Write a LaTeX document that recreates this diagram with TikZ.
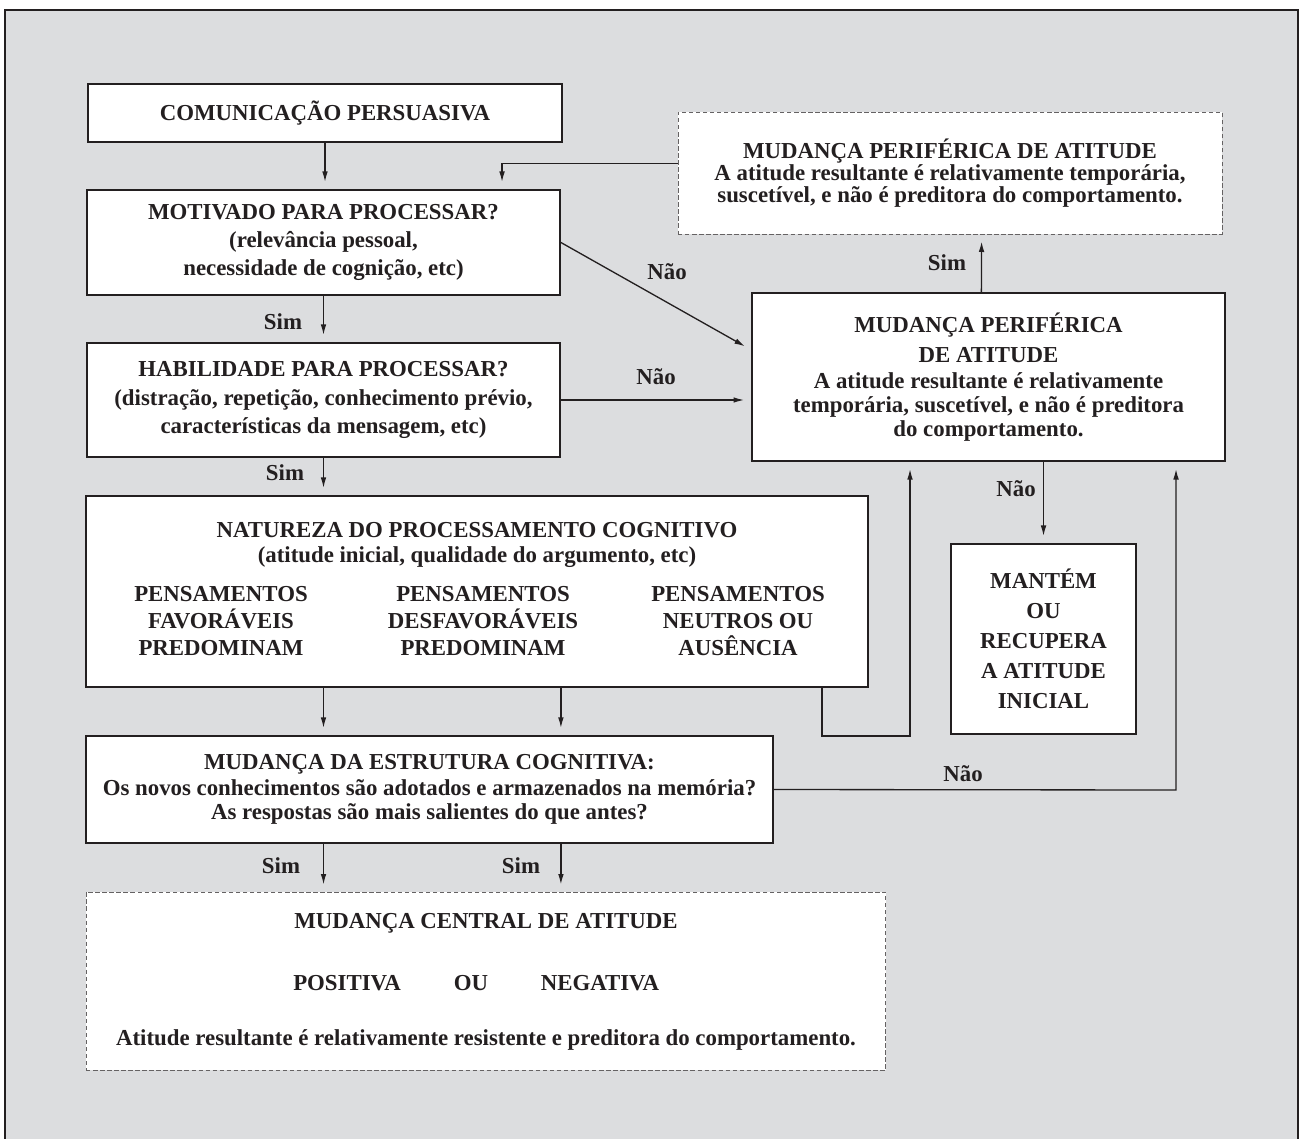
\documentclass[tikz,border=0pt]{standalone}
\usepackage{fontspec}
\setmainfont{Liberation Serif}
\usetikzlibrary{arrows.meta,calc}

\definecolor{fundo}{HTML}{DCDDDF}
\definecolor{traco}{HTML}{231F20}

\begin{document}
\begin{tikzpicture}[x=0.02cm, y=-0.02cm,
	caixa/.style={draw=traco, line width=1.1pt, fill=white, inner sep=0pt},
	tracejada/.style={draw=traco!70, line width=0.5pt, dash pattern=on 2.5pt off 1.5pt, fill=white, inner sep=0pt},
	texto/.style={font=\fontsize{13}{16}\selectfont\bfseries, align=center, text=traco},
	seta/.style={draw=traco, line width=0.75pt, -{Latex[length=6pt,width=3.2pt]}, shorten >=4pt},
	rotulo/.style={font=\fontsize{13}{16}\selectfont\bfseries, text=traco}]
	% frame
	\fill[white] (0,0) rectangle (1300,1138);
	\useasboundingbox (0,0) rectangle (1300,1138);
	\draw[traco, fill=fundo, line width=1pt] (5,10) rectangle (1298,1160);
	% left column
	\node[caixa, texto, minimum width=9.48cm, minimum height=1.16cm] (com) at (325,113) {COMUNICAÇÃO PERSUASIVA};
	\node[caixa, texto, minimum width=9.46cm, minimum height=2.1cm] (mot) at (323.5,242.5) {MOTIVADO PARA PROCESSAR?\\(relevância pessoal,\\necessidade de cognição, etc)};
	\node[caixa, texto, minimum width=9.46cm, minimum height=2.28cm] (hab) at (323.5,400) {HABILIDADE PARA PROCESSAR?\\(distração, repetição, conhecimento prévio,\\características da mensagem, etc)};
	\node[caixa, minimum width=15.64cm, minimum height=3.82cm] (nat) at (477,591.5) {};
	\node[texto, font=\fontsize{13}{14.2}\selectfont\bfseries] (natT) at (477,545) {NATUREZA DO PROCESSAMENTO COGNITIVO\\(atitude inicial, qualidade do argumento, etc)};
	\node[texto, font=\fontsize{13}{15.5}\selectfont\bfseries] (favor) at (221,621) {PENSAMENTOS\\FAVORÁVEIS\\PREDOMINAM};
	\node[texto, font=\fontsize{13}{15.5}\selectfont\bfseries] (desfavor) at (483,621) {PENSAMENTOS\\DESFAVORÁVEIS\\PREDOMINAM};
	\node[texto, font=\fontsize{13}{15.5}\selectfont\bfseries] (neutros) at (738,621) {PENSAMENTOS\\NEUTROS OU\\AUSÊNCIA};
	\node[caixa, texto, font=\fontsize{13}{13.5}\selectfont\bfseries, minimum width=13.74cm, minimum height=2.14cm] (est) at (429.5,789.5) {MUDANÇA DA ESTRUTURA COGNITIVA:\\[1.5pt]Os novos conhecimentos são adotados e armazenados na memória?\\As respostas são mais salientes do que antes?};
	\node[tracejada, minimum width=16cm, minimum height=3.56cm] (cen) at (486,981) {};
	\node[texto] (cenT) at (486,923) {MUDANÇA CENTRAL DE ATITUDE};
	\node[texto] (pos) at (347,983) {POSITIVA};
	\node[texto] (ou) at (471,983) {OU};
	\node[texto] (neg) at (600,983) {NEGATIVA};
	\node[texto] (cenL) at (486,1040) {Atitude resultante é relativamente resistente e preditora do comportamento.};
	% right column
	\node[tracejada, texto, font=\fontsize{13}{12.5}\selectfont\bfseries, minimum width=10.88cm, minimum height=2.44cm] (perT) at (950,173) {MUDANÇA PERIFÉRICA DE ATITUDE\\A atitude resultante é relativamente temporária,\\suscetível, e não é preditora do comportamento.};
	\node[caixa, texto, font=\fontsize{13}{13.6}\selectfont\bfseries, minimum width=9.46cm, minimum height=3.36cm] (per) at (988.5,377) {MUDANÇA PERIFÉRICA\\[3.4pt]DE ATITUDE\\[1pt]A atitude resultante é relativamente\\temporária, suscetível, e não é preditora\\do comportamento.};
	\node[caixa, texto, font=\fontsize{13}{17}\selectfont\bfseries, minimum width=3.7cm, minimum height=3.8cm] (man) at (1043.5,639) {MANTÉM\\OU\\RECUPERA\\A ATITUDE\\INICIAL};
	% arrows
	\draw[seta] (com.south) -- (com.south |- mot.north);
	\draw[seta] (mot.south) -- (hab.north);
	\draw[seta] (hab.south) -- (hab.south |- nat.north);
	\draw[seta] (nat.south -| hab.south) -- (est.north -| hab.south);
	\draw[seta] (nat.south -| hab.east) -- (est.north -| hab.east);
	\draw[seta] (est.south -| hab.south) -- (cen.north -| hab.south);
	\draw[seta] (est.south -| hab.east) -- (cen.north -| hab.east);
	\draw[seta] (mot.east) -- ($(per.north west)!0.34!(per.south west)$);
	\draw[seta] (hab.east) -- (hab.east -| per.west);
	\draw[seta] ($(per.north west)!0.485!(per.north east)$) -- ($(perT.south west)!0.558!(perT.south east)$);
	\draw[seta] ($(perT.north west)!0.42!(perT.south west)$) -| ($(mot.north west)!0.876!(mot.north east)$);
	\draw[seta] (per.south -| man.north) -- (man.north);
	\coordinate (neutro) at (910,736);
	\draw[seta] ($(nat.south west)!0.94!(nat.south east)$) |- (neutro) -- (neutro |- per.south);
	\coordinate (naoB) at (1176,790);
	\draw[seta] (est.east) -- (naoB) -- (naoB |- per.south);
	% labels
	\node[rotulo] (sim1) at (283,322) {Sim};
	\node[rotulo] (sim2) at (285,473) {Sim};
	\node[rotulo] (sim3) at (281,866) {Sim};
	\node[rotulo] (sim4) at (521,866) {Sim};
	\node[rotulo] (sim5) at (947,263) {Sim};
	\node[rotulo] (nao1) at (667,272) {Não};
	\node[rotulo] (nao2) at (656,377) {Não};
	\node[rotulo] (nao3) at (1016,489) {Não};
	\node[rotulo] (nao4) at (963,774) {Não};
\end{tikzpicture}
\end{document}
